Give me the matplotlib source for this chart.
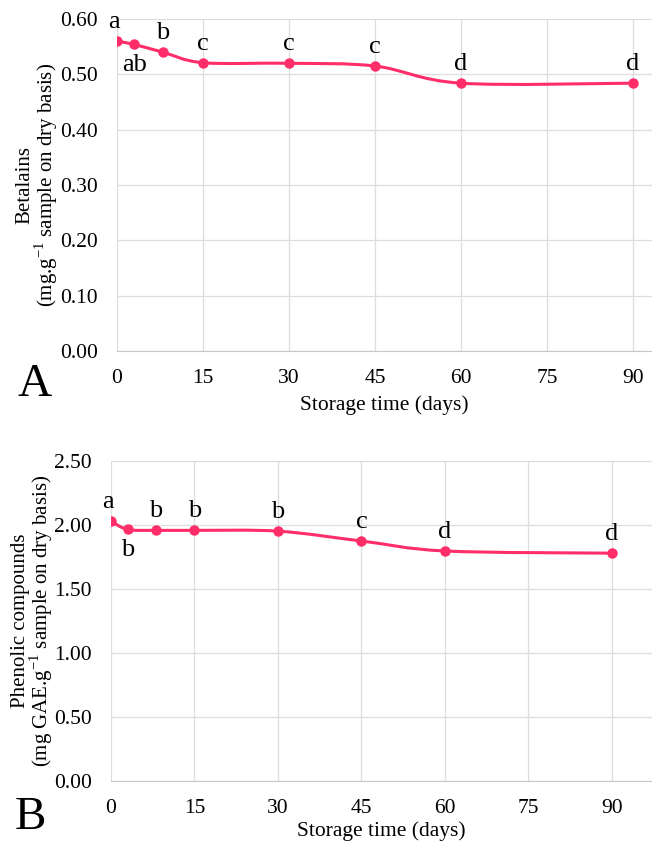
import matplotlib
matplotlib.use("Agg")
import matplotlib.pyplot as plt
from matplotlib.path import Path
from matplotlib.patches import PathPatch
import numpy as np

plt.rcParams["font.family"] = ["Liberation Serif", "DejaVu Serif"]
plt.rcParams["mathtext.fontset"] = "custom"
plt.rcParams["mathtext.rm"] = "Liberation Serif"

# storage time (days)
days = [0, 3, 8, 15, 30, 45, 60, 90]

# panel A - betalains
betalains = [0.560, 0.554, 0.540, 0.521, 0.520, 0.515, 0.484, 0.484]
letters_a = ["a", "ab", "b", "c", "c", "c", "d", "d"]

# panel B - phenolic compounds
phenolics = [2.03, 1.965, 1.958, 1.958, 1.952, 1.875, 1.797, 1.780]
letters_b = ["a", "b", "b", "b", "b", "c", "d", "d"]

xticks = [0, 15, 30, 45, 60, 75, 90]
LINE = "#FF2D68"


def smooth_path(x, y):
    # excel style smoothed line: catmull-rom segments as cubic beziers
    p = np.column_stack([x, y]).astype(float)
    n = len(p)
    verts = [p[0]]
    codes = [Path.MOVETO]
    for i in range(n - 1):
        p0 = p[i - 1] if i > 0 else p[i]
        p3 = p[i + 2] if i + 2 < n else p[i + 1]
        c1 = p[i] + (p[i + 1] - p0) / 6
        c2 = p[i + 1] - (p3 - p[i]) / 6
        verts += [c1, c2, p[i + 1]]
        codes += [Path.CURVE4] * 3
    return Path(verts, codes)


def panel(rect, y, letters, below, ylim, yticks, xmax, ylabel, tag, tagpos, ylabx, xlpad):
    ax = fig.add_axes(rect)
    ax.add_patch(PathPatch(smooth_path(days, y), fc="none", ec=LINE, lw=2.2, zorder=3))
    ax.plot(days, y, "o", color=LINE, ms=6.5, zorder=4)
    for i, (d, v, t) in enumerate(zip(days, y, letters)):
        dy = -27 if i == below else 13
        dx = -3 if i == 0 else 0
        ax.annotate(t, (d, v), xytext=(dx, dy), textcoords="offset pixels",
                    ha="center", va="baseline", fontsize=19)
    ax.set_xlim(0, xmax)
    ax.set_ylim(*ylim)
    ax.set_xticks(xticks)
    ax.set_yticks(yticks)
    ax.set_yticklabels(["%.2f" % t for t in yticks])
    ax.grid(True, color="#dddddd", lw=0.9)
    ax.set_axisbelow(True)
    for s in ["top", "right", "left"]:
        ax.spines[s].set_visible(False)
    ax.spines["bottom"].set_color("#c8c8c8")
    ax.tick_params(length=0, labelsize=15.5, pad=13)
    ax.tick_params(axis="y", pad=14)
    ax.set_xlabel("Storage time (days)", fontsize=15.5, labelpad=xlpad)
    fig.text(ylabx, rect[1] + rect[3] / 2, ylabel, rotation=90, ha="center", va="center",
             fontsize=15, linespacing=0.9, multialignment="center")
    fig.text(tagpos[0], tagpos[1], tag, fontsize=34, ha="center", va="center")
    return ax


fig = plt.figure(figsize=(6.52, 8.43), dpi=100)

panel([117 / 652, 1 - 351 / 843, 535 / 652, 332 / 843], betalains, letters_a, 1,
      (0, 0.6), [0, 0.1, 0.2, 0.3, 0.4, 0.5, 0.6], 93.3,
      "Betalains\n(mg.g$^{\\mathregular{ -1}}$ sample on dry basis)", "A", (35 / 652, 1 - 385 / 843),
      38 / 652, 5)

panel([111 / 652, 1 - 781 / 843, 541 / 652, 320 / 843], phenolics, letters_b, 1,
      (0, 2.5), [0, 0.5, 1.0, 1.5, 2.0, 2.5], 97.2,
      "Phenolic compounds\n(mg GAE.g$^{\\mathregular{ -1}}$ sample on dry basis)", "B",
      (30 / 652, 1 - 818 / 843), 33 / 652, 2)

fig.savefig("out.png", dpi=100)
